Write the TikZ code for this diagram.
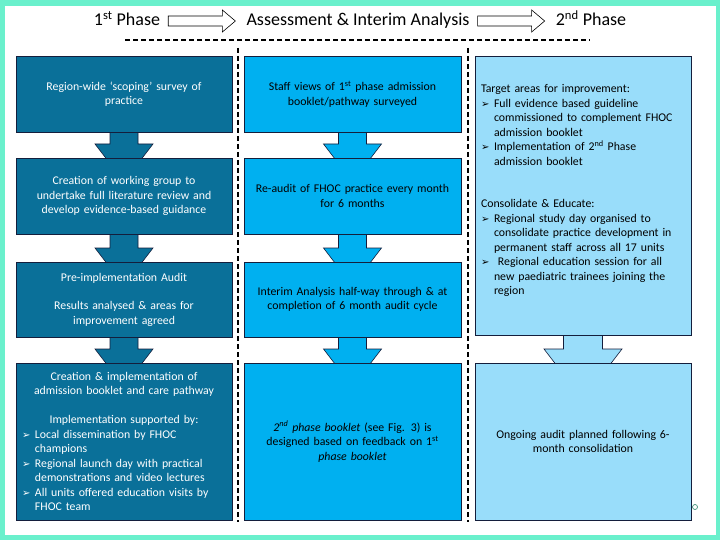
\documentclass[tikz,border=0pt]{standalone}
\usepackage{fontspec}
\setmainfont{Carlito}
\newfontfamily\symfont{DejaVu Sans}
\usetikzlibrary{positioning,calc}
\definecolor{framegreen}{RGB}{106,240,204}
\definecolor{phaseone}{RGB}{10,112,153}
\definecolor{interim}{RGB}{0,176,240}
\definecolor{phasetwo}{RGB}{153,221,250}
\definecolor{edgeblue}{RGB}{20,30,60}
\pgfdeclarelayer{frame}
\pgfdeclarelayer{arrows}
\pgfsetlayers{frame,arrows,main}

% bullet list inside the boxes
\newcommand{\bul}{\makebox[13pt][l]{\symfont\fontsize{10}{10}\selectfont\char"27A2}}
\newenvironment{bullets}{\raggedright
  \begin{list}{\bul}{\setlength{\leftmargin}{13pt}\setlength{\labelwidth}{13pt}%
    \setlength{\labelsep}{0pt}\setlength{\itemsep}{0pt}\setlength{\topsep}{0pt}%
    \setlength{\parsep}{0pt}\setlength{\partopsep}{0pt}}}
  {\end{list}}

% fat arrow between two stacked boxes: from, to, colour, shaft, head
\newcommand{\stepflow}[5]{%
  \draw[blockarr,fill=#3] let \p1=(#1.south), \p2=(#2.north) in
    (\x1-#4,\y1+4pt) -- (\x1-#4,\y2+14pt) -- (\x1-#5,\y2+14pt)
    -- (\x1,\y2+14pt-1.3*#5) -- (\x1+#5,\y2+14pt) -- (\x1+#4,\y2+14pt)
    -- (\x1+#4,\y1+4pt) -- cycle;}

% open arrow between the header words
\newcommand{\hdrarrow}[2]{%
  \draw[hdrarr] let \p1=(#1.east), \p2=(#2.west) in
    (\x1+6pt,\y1+5pt) -- (\x2-22pt,\y1+5pt) -- (\x2-22pt,\y1+11pt)
    -- (\x2-9pt,\y1) -- (\x2-22pt,\y1-11pt) -- (\x2-22pt,\y1-5pt)
    -- (\x1+6pt,\y1-5pt) -- cycle;}

\begin{document}
\begin{tikzpicture}[x=1pt,y=-1pt,
    node distance=26pt,
    box/.style={draw=edgeblue,line width=0.6pt,outer sep=0pt,inner sep=6pt,
      minimum width=216pt,text width=204pt,align=center,
      font=\fontsize{11.8}{14.5}\selectfont},
    stepone/.style={box,fill=phaseone,text=white,minimum height=76pt},
    steptwo/.style={box,fill=interim,text=black,minimum height=76pt},
    stepthree/.style={box,fill=phasetwo,text=black},
    blockarr/.style={draw=edgeblue,line width=0.6pt},
    hdrarr/.style={draw=black,line width=0.6pt,fill=white},
    divider/.style={black,line width=1.4pt,dash pattern=on 5pt off 3pt},
    header/.style={font=\fontsize{18}{20}\selectfont,inner sep=2pt,
      text height=12pt,text depth=3pt}]
  \begin{pgfonlayer}{frame}
    \fill[framegreen] (0,0) rectangle (720,540);
    \fill[white] (5,6) rectangle (716,535);
  \end{pgfonlayer}
  \useasboundingbox (0,0) rectangle (720,540);

  % header
  \node[header] (ph1) at (127,21) {1\textsuperscript{st} Phase};
  \node[header] (assess) at (358,21) {Assessment \& Interim Analysis};
  \node[header] (ph2) at (591,21) {2\textsuperscript{nd} Phase};
  \hdrarrow{ph1}{assess}
  \hdrarrow{assess}{ph2}
  \draw[divider] (125,40) -- (590,40);
  \draw[divider] (238,48) -- (238,522);
  \draw[divider] (468,48) -- (468,522);

  % 1st phase
  \node[stepone,anchor=north west] (scope) at (16,56)
    {Region-wide ‘scoping’ survey of\\practice};
  \node[stepone,below=of scope] (group)
    {Creation of working group to\\undertake full literature review and\\develop evidence-based guidance};
  \node[stepone,below=28pt of group,minimum height=75pt] (preaudit)
    {Pre-implementation Audit\\[14pt]Results analysed \& areas for\\improvement agreed};
  \node[stepone,below=of preaudit,minimum height=157pt,align=left] (booklet)
    {{\centering Creation \& implementation of\\admission booklet and care pathway\\[14.5pt]
      Implementation supported by:\par}
     \begin{bullets}
       \item Local dissemination by FHOC\\champions
       \item Regional launch day with practical\\demonstrations and video lectures
       \item All units offered education visits by\\FHOC team
     \end{bullets}};

  % assessment & interim analysis
  \node[steptwo,right=12pt of scope,minimum width=217pt] (staff)
    {Staff views of 1\textsuperscript{st} phase admission\\booklet/pathway surveyed};
  \node[steptwo,below=of staff,minimum width=217pt] (reaudit)
    {Re-audit of FHOC practice every month\\for 6 months};
  \node[steptwo,below=28pt of reaudit,minimum width=217pt,minimum height=75pt] (halfway)
    {Interim Analysis half-way through \& at\\completion of 6 month audit cycle};
  \node[steptwo,below=of halfway,minimum width=217pt,minimum height=157pt] (redesign)
    {\textit{2\textsuperscript{nd} phase booklet} (see Fig. 3) is\\designed based on feedback on 1\textsuperscript{st}\\\textit{phase booklet}};

  % 2nd phase
  \node[stepthree,right=14pt of staff.north east,anchor=north west,
        minimum height=279pt,align=left] (targets)
    {Target areas for improvement:
     \begin{bullets}
       \item Full evidence based guideline\\commissioned to complement FHOC\\admission booklet
       \item Implementation of 2\textsuperscript{nd} Phase\\admission booklet
     \end{bullets}
     \vspace{28pt}
     Consolidate \& Educate:
     \begin{bullets}
       \item Regional study day organised to\\consolidate practice development in\\permanent staff across all 17 units
       \item \ Regional education session for all\\new paediatric trainees joining the\\region
     \end{bullets}
     \vspace{10pt}};
  \node[stepthree,below=28pt of targets,minimum height=157pt] (ongoing)
    {Ongoing audit planned following 6-\\month consolidation};

  \node[draw=framegreen!60!black,circle,inner sep=0pt,minimum size=5pt,line width=0.7pt]
    (slideno) at (695,507) {};

  \begin{pgfonlayer}{arrows}
    \stepflow{scope}{group}{phaseone}{14pt}{29pt}
    \stepflow{group}{preaudit}{phaseone}{14pt}{29pt}
    \stepflow{preaudit}{booklet}{phaseone}{14pt}{29pt}
    \stepflow{staff}{reaudit}{interim}{14pt}{29pt}
    \stepflow{reaudit}{halfway}{interim}{14pt}{29pt}
    \stepflow{halfway}{redesign}{interim}{14pt}{29pt}
    \stepflow{targets}{ongoing}{phasetwo}{19.5pt}{39pt}
  \end{pgfonlayer}
\end{tikzpicture}
\end{document}
